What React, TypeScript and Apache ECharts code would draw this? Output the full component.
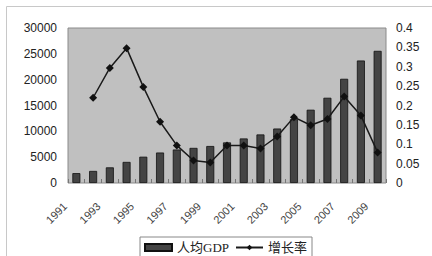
import React, { useEffect, useRef } from "react";
import * as echarts from "echarts";

const years = ["1991","1992","1993","1994","1995","1996","1997","1998","1999","2000","2001","2002","2003","2004","2005","2006","2007","2008","2009"];
const gdpPerCapita = [1912, 2334, 3027, 4081, 5091, 5898, 6481, 6796, 7159, 7858, 8622, 9398, 10542, 12336, 14185, 16500, 20169, 23708, 25575];
const growthRate = [null, 0.22, 0.297, 0.348, 0.248, 0.158, 0.097, 0.058, 0.053, 0.097, 0.097, 0.089, 0.12, 0.17, 0.149, 0.165, 0.223, 0.174, 0.079];
const seriesNames = ["人均GDP", "增长率"];

export default function App() {
  const ref = useRef<HTMLDivElement>(null);
  useEffect(() => {
    const chart = echarts.init(ref.current!, null, { renderer: "svg" });
    const font = "'Liberation Sans', Arial, sans-serif";
    chart.setOption({
      animation: false,
      backgroundColor: "#ffffff",
      graphic: [
        { type: "rect", shape: { x: 6.5, y: 6.5, width: 440, height: 270 }, style: { fill: "none", stroke: "#c8c8c8", lineWidth: 1 } },
      ],
      grid: {
        left: 68, top: 28, width: 318, height: 155,
        show: true, backgroundColor: "#c0c0c0", borderColor: "#8a8a8a", borderWidth: 1,
      },
      legend: {
        bottom: -6, left: 140,
        data: [
          { name: seriesNames[0], icon: "rect" },
          { name: seriesNames[1] },
        ],
        itemWidth: 27, itemHeight: 7, itemGap: 6,
        borderColor: "#888", borderWidth: 1, padding: [4, 5, 8, 4],
        textStyle: { fontFamily: "'Liberation Serif', 'Noto Sans CJK SC', serif", fontSize: 13, color: "#222" },
      },
      xAxis: {
        type: "category", data: years,
        axisLine: { show: false },
        axisTick: { show: true, inside: true, length: 4, interval: 0, lineStyle: { color: "#777" } },
        axisLabel: { interval: 1, rotate: 45, fontSize: 11, color: "#444", fontFamily: font, margin: 10, padding: [0, 16, 0, 0] },
      },
      yAxis: [
        {
          type: "value", min: 0, max: 30000, interval: 5000,
          axisLine: { show: false }, axisTick: { show: false }, splitLine: { show: false },
          axisLabel: { fontSize: 12, color: "#222", fontFamily: font, margin: 11, formatter: (v: number) => String(v) },
        },
        {
          type: "value", min: 0, max: 0.4, interval: 0.05,
          axisLine: { show: false }, axisTick: { show: false }, splitLine: { show: false },
          axisLabel: { fontSize: 12, color: "#222", fontFamily: font, margin: 10, formatter: (v: number) => String(Math.round(v * 100) / 100) },
        },
      ],
      series: [
        {
          name: seriesNames[0], type: "bar", data: gdpPerCapita, barWidth: 8,
          itemStyle: { color: "#444444", borderColor: "#111", borderWidth: 0.8 },
        },
        {
          name: seriesNames[1], type: "line", yAxisIndex: 1, data: growthRate,
          symbol: "diamond", symbolSize: 8, connectNulls: false,
          lineStyle: { color: "#1a1a1a", width: 1.5 },
          itemStyle: { color: "#111" },
        },
      ],
    });
    return () => chart.dispose();
  }, []);
  return <div ref={ref} style={{ width: 432, height: 256, position: "absolute", left: 0, top: 0 }} />;
}
